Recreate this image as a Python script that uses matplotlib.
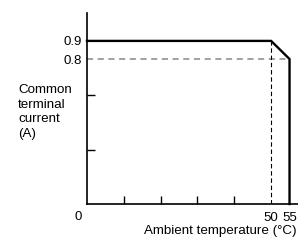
import numpy as np
import matplotlib
matplotlib.use("Agg")
import matplotlib.pyplot as plt

plt.rcParams['font.family'] = ['Liberation Sans', 'DejaVu Sans']

# 電流低減曲線
curve_temp = [0, 50, 55, 55]
curve_curr = [0.9, 0.9, 0.8, 0.0]
# 補助線
ref_curr = 0.8
ref_temp = 50
ref_temp_end = 55
# 目盛
x_minor = [10, 20, 30, 40]
x_major = [50, 55]
y_minor = [0.3, 0.6]
y_major = [0.8, 0.9]

W, H = 298, 240
fig = plt.figure(figsize=(W / 100, H / 100), dpi=100)
ax = fig.add_axes((87 / W, 1 - 204 / H, 211 / W, 191 / H))
ax.set_xlim(0, 57.3)
ax.set_ylim(0, 1.054)

ax.plot(curve_temp, curve_curr, color='k', lw=1.7, solid_joinstyle='miter',
        clip_on=False, zorder=3)
ax.plot([0, ref_temp_end], [ref_curr, ref_curr], color='#888888', lw=1.1,
        dashes=(4, 3), zorder=2)
ax.plot([ref_temp, ref_temp], [0, curve_curr[1]], color='k', lw=0.8,
        dashes=(4, 2.5), zorder=2)

for s in ['top', 'right']:
    ax.spines[s].set_visible(False)
for s in ['left', 'bottom']:
    ax.spines[s].set_linewidth(1.2)

ax.set_xticks(x_major)
ax.set_xticks(x_minor, minor=True)
ax.set_yticks(y_major)
ax.set_yticks(y_minor, minor=True)
ax.set_xticklabels([str(v) for v in x_major])
ax.set_yticklabels([str(v) for v in y_major])
ax.tick_params(which='major', length=0, labelsize=9.5, pad=5.5)
ax.tick_params(axis='y', which='major', pad=4)
ax.tick_params(which='minor', direction='in', length=5.8, width=1.0)

ax.annotate('0', xy=(0, 0), xytext=(-6.5, -9), textcoords='offset points',
            ha='center', va='center', fontsize=9.5)

fig.text(18 / W, 1 - 84 / H, 'Common\nterminal\ncurrent\n(A)', ha='left',
         va='top', fontsize=9.6, linespacing=1.3)
# 右端に収める
fig.text(297 / W, 1 - 231 / H, 'Ambient temperature (°C)', ha='right',
         va='center', fontsize=9.6)

fig.savefig('out.png', dpi=100)
